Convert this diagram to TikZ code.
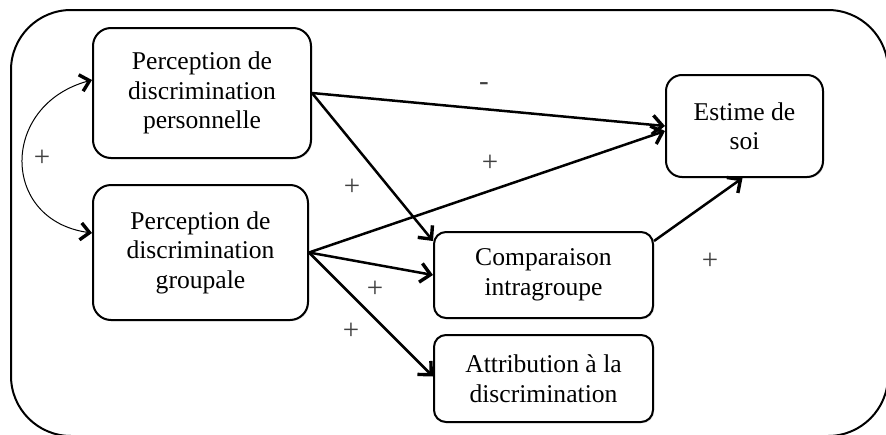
\documentclass[tikz,border=0pt]{standalone}
\usepackage{fontspec}
\setmainfont{Liberation Serif}
\usetikzlibrary{arrows.meta,shadows,calc}
\begin{document}
\begin{tikzpicture}[x=1pt,y=-1pt,
  box/.style={draw, line width=2pt, rounded corners=18pt, align=center, inner sep=0pt,
    font=\fontsize{25.6}{29.5}\selectfont,
    drop shadow={opacity=0.25, shadow xshift=1.2pt, shadow yshift=-1.2pt}, fill=white},
  tip/.tip={Straight Barb[length=10pt,width=19pt,line width=3.4pt]},
  arr/.style={line width=2.5pt, -tip},
  sign/.style={font=\fontsize{29}{31}\selectfont, text=black!75},
]
\useasboundingbox (0,0) rectangle (886,434);
\draw[line width=2pt, rounded corners=60pt] (11,10) rectangle (888,436);

\node[box, minimum width=218pt, minimum height=130pt] (pdp) at (202,93) {Perception de\\discrimination\\personnelle};
\node[box, minimum width=215pt, minimum height=135pt] (pdg) at (200.5,252.5) {Perception de\\discrimination\\groupale};
\node[box, minimum width=157pt, minimum height=102pt, rounded corners=16pt] (est) at (744.5,126) {Estime de\\soi};
\node[box, minimum width=219pt, minimum height=86pt, rounded corners=12pt] (comp) at (543.5,275) {Comparaison\\intragroupe};
\node[box, minimum width=219pt, minimum height=87pt, rounded corners=12pt] (attr) at (543.5,378.5) {Attribution à la\\discrimination};

\draw[arr] (pdp.east) -- (est.west);
\draw[arr] (pdp.east) -- ([yshift=-10pt]comp.north west);
\draw[arr] (pdg.east) -- ([yshift=-5pt]est.west);
\draw[arr] (pdg.east) -- (comp.west);
\draw[arr] (pdg.east) -- ([yshift=2pt]attr.west);
\draw[arr] ([yshift=-10pt]comp.north east) -- ([xshift=-2pt]est.south);

\draw[line width=1pt, {Straight Barb[length=9pt,width=17pt,line width=3.4pt]}-{Straight Barb[length=9pt,width=17pt,line width=3.4pt]}]
  ([yshift=13pt]pdp.west) .. controls (0,105) and (0,220) .. ([yshift=19.5pt]pdg.west);

\node[sign] (s1) at (42,158) {+};
\node[sign] (s2) at (484,87) {-};
\node[sign] (s3) at (490,163) {+};
\node[sign] (s4) at (352,187) {+};
\node[sign] (s5) at (375,289) {+};
\node[sign] (s6) at (351,331) {+};
\node[sign] (s7) at (710,261) {+};
\end{tikzpicture}
\end{document}
